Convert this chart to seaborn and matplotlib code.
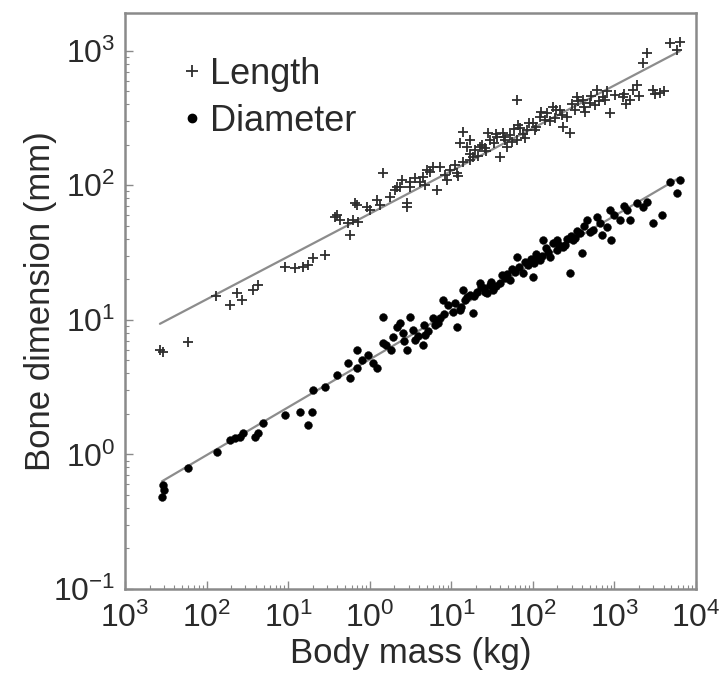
import numpy as np
import pandas as pd
import matplotlib
matplotlib.use("Agg")
import matplotlib.pyplot as plt
from matplotlib.lines import Line2D
from matplotlib.ticker import FixedLocator, LogLocator, NullFormatter
import seaborn as sns

# ---------------- data ----------------
length_mass = [0.00268, 0.00292, 0.00592, 0.0130, 0.0194, 0.0236, 0.0272, 0.0371, 0.0427,
               0.0914, 0.121, 0.152, 0.175, 0.201, 0.282, 0.375, 0.431, 0.572, 0.541, 0.697,
               0.71, 1.45, 1.00, 1.33, 1.77, 2.35, 2.86, 3.11, 4.49, 5.95,
               0.396, 0.659, 0.623, 0.925, 1.22, 2.15, 2.9, 3.11, 4.12, 5.03,
               7.24, 6.66, 8.84, 11.7, 13.9, 12.7, 15.5, 18.4, 22.4, 29.7,
               36.2, 42.9, 39.4, 48.0, 63.7, 63.7, 84.4, 100, 122, 149,
               176, 214, 261, 284, 233, 346, 410, 500, 608, 721,
               879, 1268, 1545, 1680, 1883, 2957, 3600, 2230, 2500, 4770,
               5820, 6330, 9.62, 11.1, 16.9, 19.5, 25.8, 45.4, 52.2, 69.3,
               79.8, 106, 140, 186, 327, 434, 575, 763, 1011, 16.9,
               28.1, 3.58, 4.75, 5.47, 8.35, 2.04, 2.48,
               12, 14, 17, 21, 24, 27, 33, 35, 44, 55,
               58, 66, 75, 90, 110, 125, 160, 190, 230, 300,
               360, 420, 520, 650, 800, 1300, 1400, 2000, 3100, 4000]
length_mm = [5.98, 5.78, 6.85, 15.1, 12.9, 15.9, 14.1, 16.7, 18.2,
             24.8, 24.4, 24.8, 25.6, 28.9, 30.4, 58.3, 55.4, 42.9, 52.6, 71.6,
             53.5, 124, 65.8, 71.6, 82.0, 97.4, 69.2, 97.5, 116, 137,
             60.4, 74.1, 55.3, 69.2, 78.0, 97.5, 74.1, 106, 106, 130,
             137, 92.7, 110, 124, 250, 207, 193, 163, 193, 218,
             229, 246, 163, 193, 433, 218, 259, 292, 323, 346,
             383, 364, 323, 246, 272, 455, 433, 411, 513, 455,
             346, 455, 433, 513, 559, 513, 487, 815, 966, 1146,
             1016, 1166, 130, 142, 155, 184, 190, 218, 237, 268,
             226, 259, 307, 318, 364, 352, 397, 433, 471, 218,
             246, 114, 101, 126, 120, 92.7, 110,
             118, 150, 170, 165, 200, 180, 205, 240, 230, 210,
             260, 280, 240, 290, 270, 350, 300, 360, 330, 400,
             420, 380, 460, 420, 500, 480, 400, 460, 480, 500]

diam_mass = [0.00284, 0.00292, 0.00300, 0.00592, 0.0134, 0.0194, 0.0223, 0.0256, 0.0279, 0.0392,
             0.0427, 0.0491, 0.0914, 0.140, 0.196, 0.175, 0.201, 0.282, 0.396, 0.541,
             0.572, 0.697, 0.70, 1.09, 1.22, 1.45, 1.45, 1.92, 2.15, 2.86,
             2.55, 3.38, 4.49, 4.6, 5.95, 2.35, 3.11, 7.89, 11.7, 13.9,
             18.4, 22.4, 27.3, 32.4, 39.4, 52.2, 63.7, 75.4, 100, 102,
             122, 133, 162, 197, 200, 233, 284, 309, 398, 377,
             459, 543, 663, 701, 879, 900, 807, 1164, 1419, 1545,
             1883, 2230, 2957, 3810, 4770, 5820, 6330, 9.08, 11.1, 14.7,
             16.9, 20.6, 25.1, 29.7, 45.4, 60.1, 86.8, 115, 153, 247,
             327, 500, 4.75, 3.58, 6.29, 7.24, 12.7, 1.58, 0.951, 0.802,
             1.8, 2.6, 3.9, 5.2, 6.8, 8.2, 10.5, 13, 15.5, 19,
             23, 26, 31, 35, 42, 48, 56, 68, 80, 95,
             110, 130, 145, 175, 210, 260, 290, 350, 420, 620,
             1000, 1300, 2500]
diam_mm = [0.483, 0.593, 0.544, 0.794, 1.04, 1.28, 1.33, 1.35, 1.45, 1.35,
           1.45, 1.72, 1.97, 2.07, 2.07, 1.66, 3.02, 3.18, 3.90, 4.79,
           3.70, 5.98, 4.40, 4.79, 4.40, 10.5, 6.75, 7.48, 8.88, 5.98,
           8.00, 8.43, 6.52, 9.19, 10.4, 9.51, 10.5, 14.1, 8.88, 16.7,
           11.3, 18.8, 15.9, 16.7, 18.8, 19.8, 29.4, 22.3, 20.9, 26.6,
           27.9, 39.4, 29.4, 33.1, 39.4, 34.9, 22.3, 39.4, 31.5, 44.4,
           55.3, 46.6, 52.6, 42.9, 65.8, 39.4, 49.1, 55.3, 65.8, 55.3,
           74.1, 69.2, 52.6, 60.4, 106, 87.9, 110, 12.9, 13.4, 14.1,
           15.4, 16.2, 17.3, 18.2, 20.5, 22.7, 25.6, 28.9, 32.1, 36.1,
           40.7, 45.1, 7.73, 7.10, 9.19, 10.4, 11.9, 6.52, 5.50, 5.05,
           6.0, 7.0, 7.6, 8.2, 9.5, 11.0, 11.5, 12.5, 14.8, 15.0,
           17.5, 16.0, 19.0, 17.8, 21.5, 22.0, 24.0, 24.5, 27.0, 28.5,
           31.0, 30.0, 34.0, 37.0, 36.0, 40.0, 42.0, 46.0, 50.0, 58.0,
           60.0, 70.0, 75.0]

series_names = ["Length", "Diameter"]
x_tick_values = [1e-3, 1e-2, 1e-1, 1e0, 1e1, 1e2, 1e3, 1e4]
x_tick_labels = ["$10^{3}$", "$10^{2}$", "$10^{1}$", "$10^{0}$",
                 "$10^{1}$", "$10^{2}$", "$10^{3}$", "$10^{4}$"]
y_tick_values = [1e-1, 1e0, 1e1, 1e2, 1e3]
y_tick_labels = ["$10^{-1}$", "$10^{0}$", "$10^{1}$", "$10^{2}$", "$10^{3}$"]

df_len = pd.DataFrame({"mass": length_mass, "dim": length_mm})
df_dia = pd.DataFrame({"mass": diam_mass, "dim": diam_mm})

# ---------------- style ----------------
sns.set_theme(style="white")
plt.rcParams["font.family"] = ["Liberation Sans", "DejaVu Sans"]
plt.rcParams["mathtext.default"] = "regular"
plt.rcParams["mathtext.fontset"] = "custom"
plt.rcParams["mathtext.rm"] = "Liberation Sans"
plt.rcParams["mathtext.it"] = "Liberation Sans"

TEXT = "#2a2a2a"
SPINE = "#8a8a8a"

fig = plt.figure(figsize=(7.23, 6.83), dpi=100)
ax = fig.add_axes([125 / 723, 1 - 589 / 683, (696 - 125) / 723, (589 - 13) / 683])

# regression lines (least squares in log-log space)
for df in (df_len, df_dia):
    lx = np.log10(df["mass"].to_numpy())
    ly = np.log10(df["dim"].to_numpy())
    k, b = np.polyfit(lx, ly, 1)
    xs = np.array([lx.min(), lx.max()])
    ax.plot(10 ** xs, 10 ** (k * xs + b), color="#8c8c8c", lw=1.6, zorder=1)

sns.scatterplot(data=df_len, x="mass", y="dim", ax=ax, marker="+", s=55,
                color="#2e2e2e", linewidth=1.3, zorder=3, legend=False)
sns.scatterplot(data=df_dia, x="mass", y="dim", ax=ax, marker="o", s=32,
                color="black", edgecolor="black", linewidth=0.3, zorder=3, legend=False)

ax.set_xscale("log")
ax.set_yscale("log")
ax.set_xlim(1e-3, 1e4)
ax.set_ylim(1e-1, 10 ** 3.28)

ax.xaxis.set_major_locator(FixedLocator(x_tick_values))
ax.set_xticklabels(x_tick_labels)
ax.yaxis.set_major_locator(FixedLocator(y_tick_values))
ax.set_yticklabels(y_tick_labels)
ax.xaxis.set_minor_locator(LogLocator(base=10, subs=np.arange(2, 10), numticks=20))
ax.yaxis.set_minor_locator(LogLocator(base=10, subs=np.arange(2, 10), numticks=20))
ax.xaxis.set_minor_formatter(NullFormatter())
ax.yaxis.set_minor_formatter(NullFormatter())

ax.tick_params(which="major", direction="in", length=6, width=1.0, color=SPINE,
               labelsize=23, labelcolor=TEXT, bottom=True, left=True, top=False, right=False)
ax.tick_params(axis="x", which="major", pad=10)
ax.tick_params(axis="y", which="major", pad=7)
ax.tick_params(which="minor", direction="in", length=3, width=0.8, color=SPINE,
               bottom=True, left=True, top=False, right=False)

for sp in ax.spines.values():
    sp.set_color(SPINE)
    sp.set_linewidth(1.8)

ax.set_xlabel("Body mass (kg)", fontsize=25, color=TEXT, labelpad=2)
ax.set_ylabel("Bone dimension (mm)", fontsize=25, color=TEXT, labelpad=-3)

handles = [
    Line2D([], [], ls="none", marker="+", color="#2e2e2e", markersize=8, markeredgewidth=1.3),
    Line2D([], [], ls="none", marker="o", color="black", markersize=6),
]
ax.legend(handles, series_names, loc="upper left", bbox_to_anchor=(0.045, 0.98),
          frameon=False, fontsize=26, handlelength=0.5, handletextpad=0.25,
          labelspacing=0.32, labelcolor=TEXT)

fig.savefig("out.png", dpi=100, facecolor="white")
